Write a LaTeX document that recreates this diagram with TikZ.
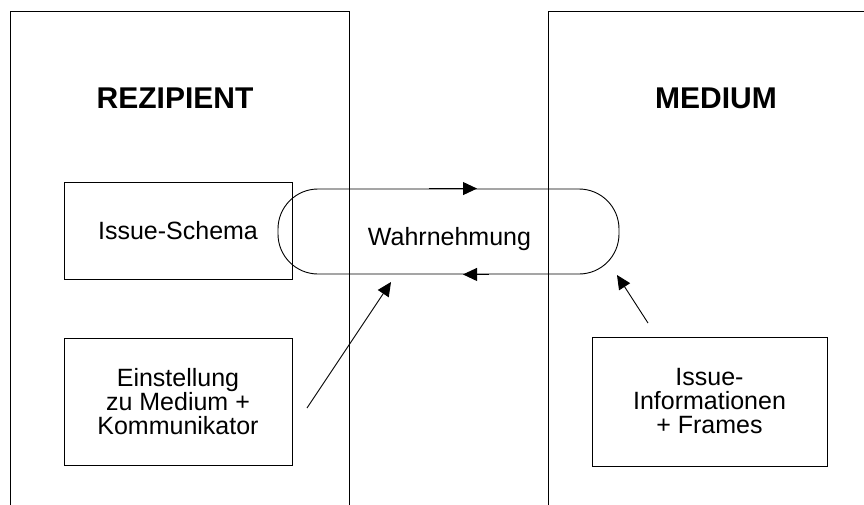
\documentclass[tikz,border=0pt]{standalone}
\usepackage{fontspec}
\setmainfont{Liberation Sans}
\usetikzlibrary{arrows.meta,positioning}

\begin{document}
\begin{tikzpicture}[x=1pt, y=-1pt, node distance=171pt, line width=0.9pt, >={Triangle[length=14pt,width=13pt]}]
        \tikzstyle{panel} = [draw, rectangle, minimum width=339pt, minimum height=520pt, inner sep=0pt]
        \tikzstyle{title} = [font=\fontsize{30}{30}\selectfont\bfseries]
        \tikzstyle{block} = [draw, rectangle, minimum width=228pt, minimum height=97pt, inner sep=0pt, align=center, font=\fontsize{25}{24}\selectfont]
        \tikzstyle{loop} = [draw, rectangle, rounded corners=40pt, minimum width=341pt, minimum height=85pt]

        \useasboundingbox (0,0) rectangle (864,504);
        \clip (0,0) rectangle (864,504);

        \node [panel] (rezipient) at (179.5,271) {};
        \node [panel] (medium) at (717.5,271) {};
        \node [title] (rtitle) at (175,98.5) {REZIPIENT};
        \node [title] (mtitle) at (716,98.5) {MEDIUM};

        \node [block] (schema) at (178,230.5) {Issue-Schema};
        \node [block, below of=schema, minimum height=127pt] (einstellung) {Einstellung\\zu Medium +\\Kommunikator};
        \node [block, minimum width=235pt, minimum height=129pt] (issueinfo) at (709.5,401.5) {Issue-\\Informationen\\+ Frames};

        \node [loop] (wahr) at (448.5,231.5) {};
        \node [font=\fontsize{25}{24}\selectfont] (wahrtext) at (449.5,239.5) {Wahrnehmung};

        \coordinate (einstart) at (307,408);
        \coordinate (einend) at (391,282);
        \coordinate (infostart) at (648,323);
        \coordinate (infoend) at (617,275);

        \draw [->] ([xshift=-20pt]wahr.north) -- ([xshift=28.5pt]wahr.north);
        \draw [->] ([xshift=40pt]wahr.south) -- ([xshift=14.5pt]wahr.south);
        \draw [->] (einstart) -- (einend);
        \draw [->] (infostart) -- (infoend);
    \end{tikzpicture}
\end{document}
